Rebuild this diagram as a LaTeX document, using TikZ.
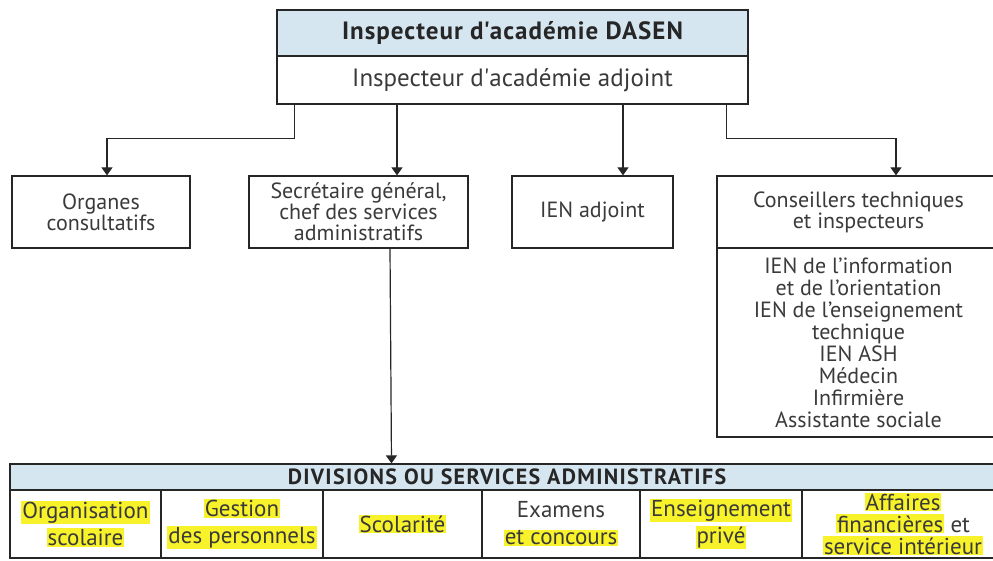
\documentclass[tikz,border=0pt]{standalone}
\usepackage{fontspec}
\setmainfont{PT Sans}
\usepackage{tikz}
\usetikzlibrary{arrows.meta}

\definecolor{trait}{HTML}{262626}
\definecolor{texte}{HTML}{3A3A3A}
\definecolor{bleuclair}{HTML}{D6E6F0}
\definecolor{surligneur}{HTML}{F8F22A}

\setlength{\fboxsep}{1pt}
\newcommand{\surligne}[1]{\colorbox{surligneur}{#1}}

\tikzset{
  boite/.style={draw=trait, line width=1.2pt, text=texte, align=center,
    inner sep=0pt, font=\fontsize{22}{21}\selectfont},
  case/.style={boite, minimum height=68pt, font=\fontsize{23}{27}\selectfont},
  titre/.style={boite, fill=bleuclair, text=trait},
  fleche/.style={draw=trait, line width=1.2pt, -{Triangle[width=11pt,length=8pt]}}
}

\begin{document}
\begin{tikzpicture}[x=1pt,y=-1pt]
\useasboundingbox (0,0) rectangle (993,561);

% direction
\node[titre, minimum width=471pt, minimum height=46pt,
  font=\bfseries\fontsize{25}{26}\selectfont\addfontfeatures{LetterSpace=4}] (dasen) at (512.5,33)
  {Inspecteur d\textquotesingle académie DASEN};
\node[boite, minimum width=471pt, minimum height=48pt,
  font=\fontsize{25}{26}\selectfont] (adjoint) at (512.5,80)
  {Inspecteur d\textquotesingle académie adjoint};

% second level
\node[boite, minimum width=178pt, minimum height=72pt] (organes) at (101,212)
  {Organes\\consultatifs};
\node[boite, minimum width=219pt, minimum height=72pt] (sg) at (358.5,212)
  {Secrétaire général,\\chef des services\\administratifs};
\node[boite, minimum width=161pt, minimum height=72pt] (ien) at (592.5,212)
  {IEN adjoint};
\node[boite, minimum width=283pt, minimum height=72pt] (conseillers) at (858.5,212)
  {Conseillers techniques\\et inspecteurs};
\node[boite, minimum width=283pt, minimum height=189pt,
  font=\fontsize{22}{22}\selectfont] (liste) at (858.5,342.5)
  {IEN de l’information\\et de l’orientation\\IEN de l’enseignement\\technique\\IEN ASH\\Médecin\\Infirmière\\Assistante sociale};

% divisions
\node[titre, minimum width=994pt, minimum height=26pt,
  font=\bfseries\fontsize{22}{20}\selectfont\addfontfeatures{LetterSpace=6}] (divisions) at (507,477)
  {DIVISIONS OU SERVICES ADMINISTRATIFS};
\node[case, minimum width=151pt] (orga) at (85.5,524)
  {\surligne{Organisation}\\\surligne{scolaire}};
\node[case, minimum width=162pt] (gestion) at (242,524)
  {\surligne{Gestion}\\\surligne{des personnels}};
\node[case, minimum width=159pt] (scolarite) at (402.5,524)
  {\surligne{Scolarité}};
\node[case, minimum width=158pt] (examens) at (561,524)
  {Examens\\\surligne{et concours}};
\node[case, minimum width=162pt] (prive) at (721,524)
  {\surligne{Enseignement}\\\surligne{privé}};
\node[case, minimum width=202pt, font=\fontsize{23}{22}\selectfont] (affaires) at (903,524)
  {\surligne{Affaires}\\\surligne{financières} et\\\surligne{service intérieur}};

% liaisons
\draw[fleche] ([xshift=18pt]adjoint.south west) -- ++(0,34) -| ([xshift=6pt]organes.north);
\draw[fleche] ([xshift=38.5pt]sg.north) ++(0,-72) -- ([xshift=38.5pt]sg.north);
\draw[fleche] ([xshift=30.5pt]ien.north) ++(0,-72) -- ([xshift=30.5pt]ien.north);
\draw[fleche] ([xshift=-22.5pt]adjoint.south east) -- ++(0,34) -| ([xshift=37.5pt]conseillers.north);
\draw[fleche] ([xshift=31.5pt]sg.south) -- ([xshift=-115.5pt]divisions.north);
\end{tikzpicture}
\end{document}
